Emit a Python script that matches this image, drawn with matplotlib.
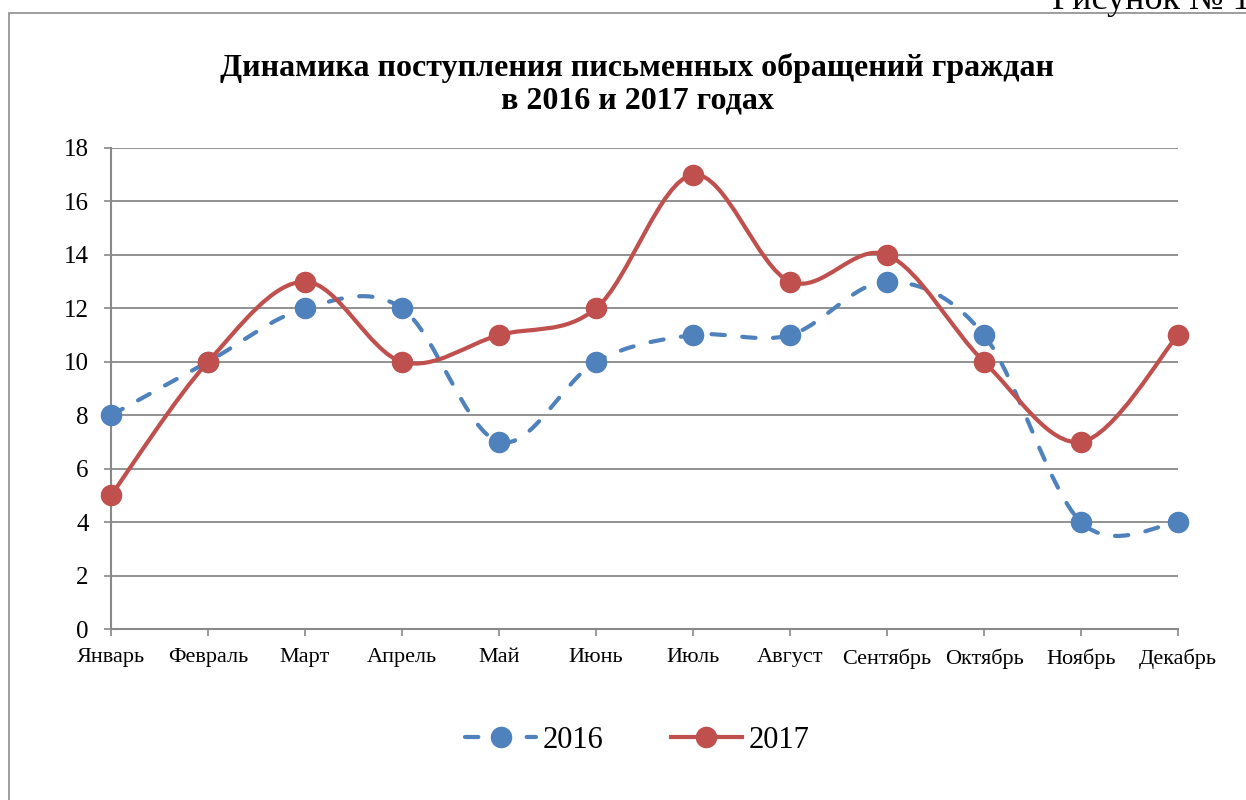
import matplotlib
matplotlib.use("Agg")
import matplotlib.pyplot as plt
from matplotlib.path import Path
from matplotlib.patches import PathPatch, Rectangle
from matplotlib.lines import Line2D
import numpy as np

months = ["Январь", "Февраль", "Март", "Апрель", "Май", "Июнь", "Июль",
          "Август", "Сентябрь", "Октябрь", "Ноябрь", "Декабрь"]
values_2016 = [8, 10, 12, 12, 7, 10, 11, 11, 13, 11, 4, 4]
values_2017 = [5, 10, 13, 10, 11, 12, 17, 13, 14, 10, 7, 11]
yticks = [0, 2, 4, 6, 8, 10, 12, 14, 16, 18]
title = "Динамика поступления письменных обращений граждан\nв 2016 и 2017 годах"

plt.rcParams['font.family'] = ['Liberation Serif', 'DejaVu Serif']

BLUE = "#4F81BD"
RED = "#C0504D"
GRAY = "#898989"

fig = plt.figure(figsize=(12.46, 8.0), dpi=100)
W, H = 1246, 800

# chart frame
fig.patches.append(Rectangle((9 / W, -0.1), 1.2, 1 - 13 / H + 0.1, transform=fig.transFigure,
                             fill=False, edgecolor="#8c8c8c", linewidth=1.2))
fig.text(1052 / W, 1 - 9 / H, "Рисунок № 1", fontsize=26, ha="left", va="baseline")

ax = fig.add_axes([111 / W, 1 - 629 / H, (1178 - 111) / W, (629 - 148) / H])
ax.set_xlim(0, len(months) - 1)
ax.set_ylim(0, 18)


def smooth_path(xs, ys):
    pts = np.column_stack([xs, ys]).astype(float)
    n = len(pts)
    verts = [pts[0]]
    codes = [Path.MOVETO]
    for i in range(n - 1):
        p0 = pts[i - 1] if i > 0 else pts[i]
        p1 = pts[i]
        p2 = pts[i + 1]
        p3 = pts[i + 2] if i + 2 < n else pts[i + 1]
        c1 = p1 + (p2 - p0) / 6.0
        c2 = p2 - (p3 - p1) / 6.0
        verts += [c1, c2, p2]
        codes += [Path.CURVE4] * 3
    return Path(verts, codes)


x = np.arange(len(months))
lw = 3.0
ms = 14.5
dash = (0, (3.2, 4.2))
p16 = PathPatch(smooth_path(x, values_2016), fill=False, edgecolor=BLUE, linewidth=lw,
                linestyle=dash, capstyle="round", clip_on=False, zorder=3)
ax.add_patch(p16)
ax.plot(x, values_2016, linestyle="none", marker="o", markersize=ms, color=BLUE,
        clip_on=False, zorder=4)
p17 = PathPatch(smooth_path(x, values_2017), fill=False, edgecolor=RED, linewidth=lw,
                clip_on=False, zorder=5, capstyle="round", joinstyle="round")
ax.add_patch(p17)
ax.plot(x, values_2017, linestyle="none", marker="o", markersize=ms, color=RED,
        clip_on=False, zorder=6)

ax.set_yticks(yticks)
ax.set_xticks(x)
ax.set_xticklabels(months, fontsize=16)
ax.tick_params(axis="y", labelsize=18, length=5, width=1.2, color=GRAY, pad=11)
ax.tick_params(axis="x", length=5, width=1.2, color=GRAY, pad=9)
ax.grid(axis="y", color=GRAY, linewidth=1.3)
ax.set_axisbelow(True)
for s in ["top", "right"]:
    ax.spines[s].set_visible(False)
for s in ["left", "bottom"]:
    ax.spines[s].set_color(GRAY)
    ax.spines[s].set_linewidth(1.5)

fig.text(637 / W, 1 - 84 / H, title, fontsize=23, fontweight="bold",
         ha="center", va="center", linespacing=1.15)

handles = [
    Line2D([], [], color=BLUE, linewidth=lw, linestyle=dash, marker="o",
           markersize=ms, dash_capstyle="round"),
    Line2D([], [], color=RED, linewidth=lw, marker="o", markersize=ms),
]
fig.legend(handles, ["2016", "2017"], loc="center", bbox_to_anchor=(637 / W, 1 - 740 / H),
           ncol=2, frameon=False, fontsize=22, handlelength=2.35, columnspacing=2.2,
           handletextpad=0.2)

fig.savefig("out.png", dpi=100)
